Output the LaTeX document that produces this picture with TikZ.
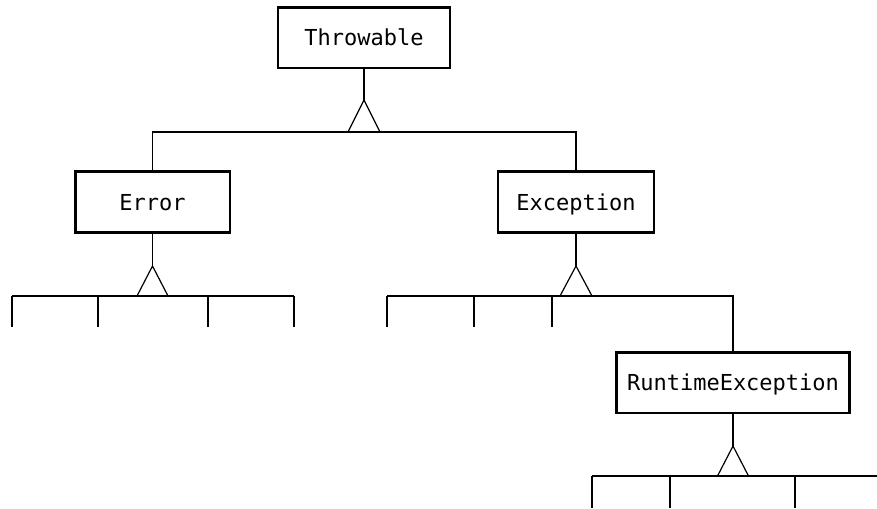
\documentclass[tikz,border=0pt]{standalone}
\usepackage{fontspec}
\setmonofont{DejaVu Sans Mono}
\usetikzlibrary{positioning}

\begin{document}
\begin{tikzpicture}[
            x = 0.75pt, y = -0.75pt, % work in pixels of the sketch
            line width = 0.9pt, % thin connector lines
            cls/.style = {shape=rectangle, draw=black, line width=2pt,
                          inner sep=0pt, minimum height=45.5pt,
                          text height=12pt, text depth=0pt,
                          font=\ttfamily\fontsize{16.5}{19}\selectfont},
            tri/.style = {line width=0.9pt}
        ]
\useasboundingbox (0,0) rectangle (877,508);

\node[cls, minimum width=129pt] (T) at (364,37.5) {Throwable};
\node[cls, minimum width=116pt] (Er) at (152.5,202) {Error};
\node[cls, minimum width=117pt] (Ex) at (576,202) {Exception};
\node[cls, minimum width=175pt] (RE) at (733,382.5) {RuntimeException};

% Throwable
\coordinate (Ta) at (364,100);
\coordinate (Tb) at (364,132);
\draw (T) -- (Ta);
\draw[tri] (Ta) -- ++(-16,32) -- ++(32,0) -- cycle;
\draw (Er.north) |- (Tb) -| (Ex.north);

% Error
\coordinate (Era) at (152.5,266);
\draw (Er) -- (Era);
\draw[tri] (Era) -- ++(-15.5,30) -- ++(31,0) -- cycle;
\draw (12,296) -- (294,296);
\foreach \x in {12,98,208,294}
    \draw (\x,296) -- (\x,327);

% Exception
\coordinate (Exa) at (576,266);
\coordinate (Exb) at (387,296);
\draw (Ex) -- (Exa);
\draw[tri] (Exa) -- ++(-16,30) -- ++(32,0) -- cycle;
\draw (Exb) -| (RE.north);
\foreach \x in {387,474,552}
    \draw (\x,296) -- (\x,327);

% RuntimeException
\coordinate (REa) at (733,446);
\draw (RE) -- (REa);
\draw[tri] (REa) -- ++(-15.5,30) -- ++(31,0) -- cycle;
\draw (592,476) -- (877,476);
\foreach \x in {592,670,795}
    \draw (\x,476) -- (\x,508);
\end{tikzpicture}
\end{document}
